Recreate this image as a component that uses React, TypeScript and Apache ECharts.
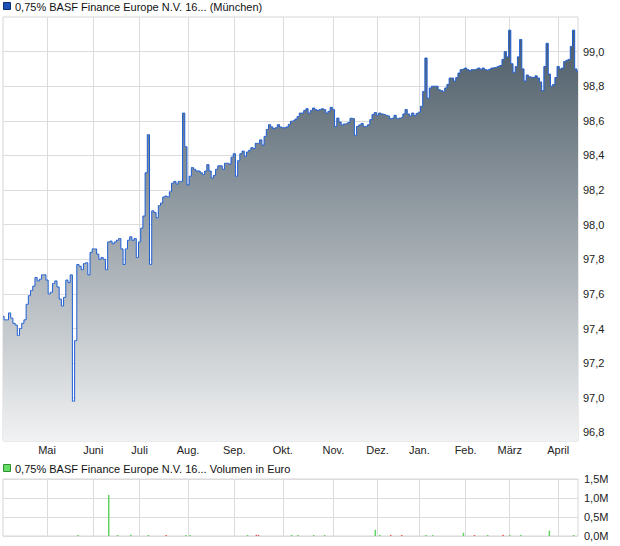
import React, { useEffect, useRef } from "react";
import * as echarts from "echarts";

// Month names shown on the time axis (first entry = partial start month, no label)
const monthNames = ["Apr", "Mai", "Juni", "Juli", "Aug.", "Sep.", "Okt.", "Nov.", "Dez.", "Jan.", "Feb.", "März", "April"];

// Daily prices per month (trading days)
const aprStart = [97.47, 97.45, 97.45, 97.49, 97.46, 97.43, 97.42, 97.36, 97.40, 97.43, 97.45, 97.54, 97.59, 97.62, 97.645, 97.695, 97.675, 97.685, 97.71, 97.71];
const mai = [97.68, 97.60, 97.61, 97.66, 97.675, 97.64, 97.57, 97.53, 97.58, 97.68, 97.665, 97.71, 96.98, 97.33, 97.77, 97.76, 97.74, 97.775, 97.78, 97.71, 97.84];
const juni = [97.86, 97.86, 97.83, 97.80, 97.81, 97.80, 97.74, 97.90, 97.905, 97.89, 97.90, 97.91, 97.92, 97.86, 97.77, 97.86, 97.91, 97.93, 97.91, 97.92, 97.81];
const juli = [97.90, 97.98, 98.05, 98.30, 98.52, 97.77, 98.08, 98.07, 98.04, 98.11, 98.125, 98.16, 98.165, 98.16, 98.19, 98.24, 98.25, 98.235, 98.25, 98.25, 98.645, 98.45];
const aug = [98.23, 98.28, 98.33, 98.32, 98.31, 98.31, 98.30, 98.29, 98.31, 98.347, 98.31, 98.27, 98.285, 98.32, 98.34, 98.34, 98.32, 98.355, 98.355, 98.35, 98.39];
const sep = [98.41, 98.28, 98.37, 98.41, 98.425, 98.395, 98.42, 98.43, 98.445, 98.44, 98.47, 98.47, 98.49, 98.46, 98.51, 98.55, 98.578, 98.565, 98.555, 98.56, 98.578, 98.565];
const okt = [98.56, 98.56, 98.565, 98.58, 98.598, 98.602, 98.61, 98.625, 98.645, 98.645, 98.66, 98.67, 98.645, 98.66, 98.674, 98.665, 98.66, 98.665, 98.67, 98.665, 98.645, 98.655, 98.678];
const nov = [98.665, 98.568, 98.616, 98.593, 98.576, 98.582, 98.585, 98.59, 98.615, 98.613, 98.516, 98.568, 98.576, 98.585, 98.568, 98.568, 98.578, 98.607, 98.636, 98.648];
const dez = [98.632, 98.645, 98.64, 98.636, 98.632, 98.628, 98.613, 98.616, 98.632, 98.614, 98.616, 98.62, 98.64, 98.665, 98.64, 98.628, 98.645, 98.63, 98.642];
const jan = [98.65, 98.684, 98.77, 98.963, 98.73, 98.79, 98.80, 98.80, 98.80, 98.78, 98.775, 98.77, 98.79, 98.81, 98.847, 98.847, 98.83, 98.85, 98.876, 98.896, 98.90];
const feb = [98.905, 98.896, 98.89, 98.896, 98.896, 98.90, 98.905, 98.898, 98.905, 98.896, 98.893, 98.898, 98.905, 98.908, 98.91, 98.915, 98.92, 98.955, 99.0, 98.97];
const maerz = [99.124, 98.93, 98.88, 98.914, 98.97, 99.07, 98.90, 98.83, 98.865, 98.855, 98.852, 98.85, 98.86, 98.848, 98.825, 98.775, 98.914, 99.048, 98.87, 98.80, 98.81, 98.85];
const aprEnd = [98.914, 98.90, 98.905, 98.943, 98.95, 98.955, 99.03, 99.124, 98.90, 98.886];

const monthlyPrices = [aprStart, mai, juni, juli, aug, sep, okt, nov, dez, jan, feb, maerz, aprEnd];

// Price axis tick labels
const priceTicks = [96.8, 97.0, 97.2, 97.4, 97.6, 97.8, 98.0, 98.2, 98.4, 98.6, 98.8, 99.0];

// Volume (Euro): trading-day index, amount, up/down day
const volDays = [34, 48, 52, 58, 66, 74, 83, 85, 111, 115, 116, 131, 134, 141, 146, 169, 171, 176, 181, 192, 195, 209, 214, 220, 227, 230, 235, 248, 259];
const volValues = [10000, 1080000, 5000, 30000, 10000, 12000, 5000, 20000, 5000, 30000, 12000, 30000, 15000, 12000, 4000, 165000, 30000, 30000, 12000, 12000, 25000, 85000, 12000, 6000, 30000, 12000, 30000, 140000, 12000];
const volUp = [1, 1, 1, 1, 1, 0, 1, 1, 1, 0, 0, 1, 1, 1, 1, 1, 1, 0, 0, 1, 1, 1, 0, 1, 0, 1, 1, 1, 1];
const volumeTicks = [0, 0.5, 1.0, 1.5]; // in millions

const FONT = "'Liberation Sans', Arial, sans-serif";
const NARROW = "'Liberation Sans Narrow', 'Arial Narrow', 'Liberation Sans', sans-serif";
const GRID_COLOR = "#dcdcdc";

export default function App() {
  const ref = useRef<HTMLDivElement>(null);

  useEffect(() => {
    if (!ref.current) return;
    const chart = echarts.init(ref.current, undefined, { renderer: "svg" });

    const categories: string[] = [];
    const isMonthStart: boolean[] = [];
    const prices: number[] = [];
    monthlyPrices.forEach((arr, m) => {
      arr.forEach((v, k) => {
        categories.push(m + "-" + k);
        isMonthStart.push(k === 0 && m > 0);
        prices.push(v);
      });
    });
    const monthInterval = (idx: number) => isMonthStart[idx];
    const monthLabel = (val: string) => {
      const [m, k] = val.split("-");
      return k === "0" ? monthNames[Number(m)] : "";
    };

    const volData = volDays.map((d, i) => ({
      value: [d, volValues[i]],
      itemStyle: { color: volUp[i] ? "#5fd35f" : "#f05a5a" },
    }));

    chart.setOption({
      animation: false,
      backgroundColor: "#ffffff",
      textStyle: { fontFamily: FONT },
      grid: [
        { left: 3, top: 17, width: 575, height: 424, show: true, borderColor: "#d6d6d6", borderWidth: 1, containLabel: false },
        { left: 3, top: 479, width: 575, height: 57, show: true, borderColor: "#d6d6d6", borderWidth: 1, containLabel: false },
      ],
      xAxis: [
        {
          type: "category",
          gridIndex: 0,
          data: categories,
          boundaryGap: false,
          axisLine: { show: false },
          axisTick: { show: false, interval: monthInterval },
          axisLabel: {
            interval: monthInterval,
            formatter: monthLabel,
            color: "#222",
            fontSize: 11,
            fontFamily: NARROW,
            margin: 3,
          },
          splitLine: { show: true, interval: monthInterval, lineStyle: { color: GRID_COLOR, width: 1 } },
        },
        {
          type: "category",
          gridIndex: 1,
          data: categories,
          boundaryGap: false,
          axisLine: { show: false },
          axisTick: { show: false, interval: monthInterval },
          axisLabel: { show: false, interval: monthInterval },
          splitLine: { show: true, interval: monthInterval, lineStyle: { color: GRID_COLOR, width: 1 } },
        },
      ],
      yAxis: [
        {
          type: "value",
          gridIndex: 0,
          position: "right",
          min: 96.75,
          max: 99.2,
          axisLine: { show: false },
          axisTick: { show: false, customValues: priceTicks },
          axisLabel: {
            customValues: priceTicks,
            formatter: (v: number) => v.toFixed(1).replace(".", ","),
            color: "#222",
            fontSize: 11,
            fontFamily: FONT,
            margin: 5,
          },
          splitLine: { show: true, lineStyle: { color: GRID_COLOR, width: 1 } },
        },
        {
          type: "value",
          gridIndex: 1,
          position: "right",
          min: 0,
          max: 1.5e6,
          interval: 5e5,
          axisLine: { show: false },
          axisTick: { show: false },
          axisLabel: {
            formatter: (v: number) => {
              const m = v / 1e6;
              const t = volumeTicks.find((x) => Math.abs(x - m) < 1e-9);
              return (t !== undefined ? t : m).toFixed(1).replace(".", ",") + "M";
            },
            color: "#222",
            fontSize: 11,
            fontFamily: FONT,
            margin: 6,
          },
          splitLine: { show: true, lineStyle: { color: GRID_COLOR, width: 1 } },
        },
      ],
      series: [
        {
          type: "line",
          xAxisIndex: 0,
          yAxisIndex: 0,
          data: prices,
          step: "middle",
          symbol: "none",
          lineStyle: { color: "#1f5fd6", width: 1 },
          areaStyle: {
            origin: "start",
            opacity: 1,
            color: new echarts.graphic.LinearGradient(0, 0, 0, 1, [
              { offset: 0, color: "#4a5a66" },
              { offset: 1, color: "#f1f2f3" },
            ]),
          },
          z: 3,
        },
        {
          type: "bar",
          xAxisIndex: 1,
          yAxisIndex: 1,
          data: volData,
          barWidth: 1.5,
          barMinHeight: 1,
        },
      ],
      graphic: [
        { type: "rect", x: 3.5, y: 2.5, shape: { x: 0, y: 0, width: 7, height: 7 }, style: { fill: "#1f52b8", stroke: "#0d2d6e", lineWidth: 1 } },
        { type: "text", x: 15, y: 6.5, style: { text: "0,75% BASF Finance Europe N.V. 16... (München)", fontSize: 11, fontFamily: FONT, fill: "#111", verticalAlign: "middle" } },
        { type: "rect", x: 3.5, y: 464.5, shape: { x: 0, y: 0, width: 7, height: 7 }, style: { fill: "#66dd66", stroke: "#2f8f2f", lineWidth: 1 } },
        { type: "text", x: 15, y: 468.5, style: { text: "0,75% BASF Finance Europe N.V. 16... Volumen in Euro", fontSize: 11, fontFamily: FONT, fill: "#111", verticalAlign: "middle" } },
      ],
    });

    return () => chart.dispose();
  }, []);

  return <div ref={ref} style={{ position: "fixed", left: 0, top: 0, width: 620, height: 546 }} />;
}
